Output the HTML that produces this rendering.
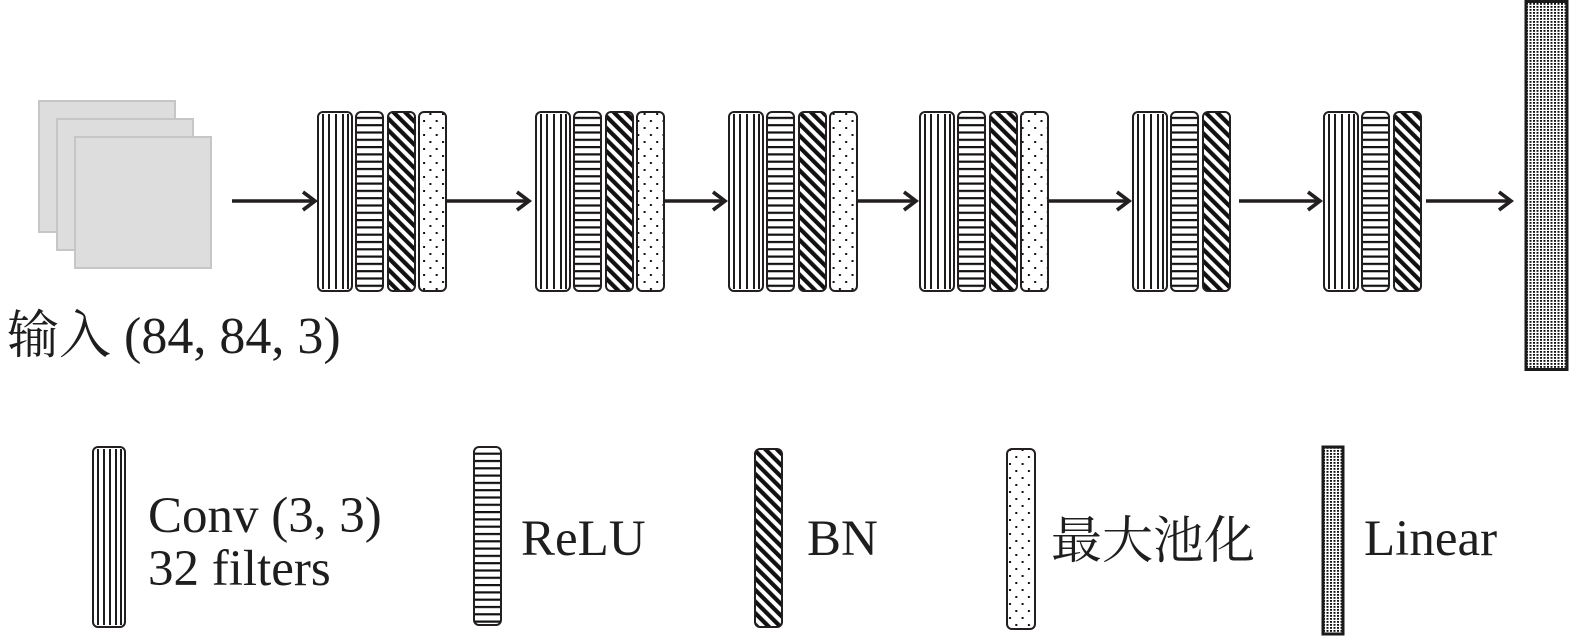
<!DOCTYPE html>
<html>
<head>
<meta charset="utf-8">
<style>
  html, body { margin: 0; padding: 0; background: #fff; }
  svg { display: block; }
  text { font-family: "Liberation Serif", "Noto Serif CJK SC", serif; fill: #1e1e1e; }
</style>
</head>
<body>
<svg width="1575" height="637" viewBox="0 0 1575 637" xmlns="http://www.w3.org/2000/svg">
  <defs>
    <pattern id="hl" patternUnits="userSpaceOnUse" width="10" height="7.3">
      <rect x="0" y="0" width="10" height="2.2" fill="#111"/>
    </pattern>
    <pattern id="dg" patternUnits="userSpaceOnUse" width="8.2" height="10" patternTransform="rotate(-45)">
      <rect x="0" y="0" width="4.2" height="10" fill="#111"/>
    </pattern>
    <pattern id="dt" patternUnits="userSpaceOnUse" width="12.6" height="14">
      <rect x="1" y="1" width="2" height="2" fill="#111"/>
      <rect x="7.3" y="8" width="2" height="2" fill="#111"/>
    </pattern>
    <pattern id="ln" patternUnits="userSpaceOnUse" width="3.5" height="3">
      <rect x="0" y="0" width="2" height="1.8" fill="#111"/>
    </pattern>
  </defs>

  <!-- input squares -->
  <rect x="39" y="101" width="136" height="131" fill="#dddddd" stroke="#c6c6c6" stroke-width="2"/>
  <rect x="57" y="119" width="136" height="131" fill="#dddddd" stroke="#c6c6c6" stroke-width="2"/>
  <rect x="75" y="137" width="136" height="131" fill="#dddddd" stroke="#c6c6c6" stroke-width="2"/>

  <text x="7" y="353" font-size="52">输入 (84, 84, 3)</text>

  <!-- arrows -->
  <g stroke="#231f20" stroke-width="3.6" fill="none" stroke-linecap="butt" stroke-linejoin="miter">
    <line x1="232" y1="201" x2="314" y2="201"/><polyline points="303,192 315,201 303,210"/>
    <line x1="447" y1="201" x2="528" y2="201"/><polyline points="517,192 529,201 517,210"/>
    <line x1="663" y1="201" x2="724" y2="201"/><polyline points="713,192 725,201 713,210"/>
    <line x1="856" y1="201" x2="915" y2="201"/><polyline points="904,192 916,201 904,210"/>
    <line x1="1048" y1="201" x2="1128" y2="201"/><polyline points="1117,192 1129,201 1117,210"/>
    <line x1="1239" y1="201" x2="1319" y2="201"/><polyline points="1308,192 1320,201 1308,210"/>
    <line x1="1426" y1="201" x2="1510" y2="201"/><polyline points="1499,192 1511,201 1499,210"/>
  </g>

  <!-- blocks -->
  <g stroke="#231f20" stroke-width="2">
    <rect x="318" y="112" width="34" height="179" rx="5" fill="#fff"/>
    <rect x="356" y="112" width="27" height="179" rx="5" fill="url(#hl)"/>
    <rect x="388" y="112" width="27" height="179" rx="5" fill="url(#dg)"/>
    <rect x="419" y="112" width="27" height="179" rx="5" fill="url(#dt)"/>

    <rect x="536" y="112" width="34" height="179" rx="5" fill="#fff"/>
    <rect x="574" y="112" width="27" height="179" rx="5" fill="url(#hl)"/>
    <rect x="606" y="112" width="27" height="179" rx="5" fill="url(#dg)"/>
    <rect x="637" y="112" width="27" height="179" rx="5" fill="url(#dt)"/>

    <rect x="729" y="112" width="34" height="179" rx="5" fill="#fff"/>
    <rect x="767" y="112" width="27" height="179" rx="5" fill="url(#hl)"/>
    <rect x="799" y="112" width="27" height="179" rx="5" fill="url(#dg)"/>
    <rect x="830" y="112" width="27" height="179" rx="5" fill="url(#dt)"/>

    <rect x="920" y="112" width="34" height="179" rx="5" fill="#fff"/>
    <rect x="958" y="112" width="27" height="179" rx="5" fill="url(#hl)"/>
    <rect x="990" y="112" width="27" height="179" rx="5" fill="url(#dg)"/>
    <rect x="1021" y="112" width="27" height="179" rx="5" fill="url(#dt)"/>

    <rect x="1133" y="112" width="34" height="179" rx="5" fill="#fff"/>
    <rect x="1171" y="112" width="27" height="179" rx="5" fill="url(#hl)"/>
    <rect x="1203" y="112" width="27" height="179" rx="5" fill="url(#dg)"/>

    <rect x="1324" y="112" width="34" height="179" rx="5" fill="#fff"/>
    <rect x="1362" y="112" width="27" height="179" rx="5" fill="url(#hl)"/>
    <rect x="1394" y="112" width="27" height="179" rx="5" fill="url(#dg)"/>
  </g>

  <!-- conv vertical lines -->
  <g stroke="#111" stroke-width="1.9">
    <path d="M323,114V289M329,114V289M336,114V289M343,114V289M348,114V289"/>
    <path d="M541,114V289M547,114V289M554,114V289M561,114V289M566,114V289"/>
    <path d="M734,114V289M740,114V289M747,114V289M754,114V289M759,114V289"/>
    <path d="M925,114V289M931,114V289M938,114V289M945,114V289M950,114V289"/>
    <path d="M1138,114V289M1144,114V289M1151,114V289M1158,114V289M1163,114V289"/>
    <path d="M1329,114V289M1335,114V289M1342,114V289M1349,114V289M1354,114V289"/>
  </g>

  <!-- linear bar -->
  <rect x="1526" y="1.5" width="41" height="368" fill="url(#ln)" stroke="#1a1a1a" stroke-width="3"/>

  <!-- legend -->
  <g stroke="#231f20" stroke-width="2">
    <rect x="93" y="447" width="32" height="180" rx="5" fill="#fff"/>
    <rect x="474" y="447" width="27" height="178" rx="5" fill="url(#hl)"/>
    <rect x="755" y="449" width="27" height="178" rx="5" fill="url(#dg)"/>
    <rect x="1007" y="449" width="28" height="180" rx="5" fill="url(#dt)"/>
  </g>
  <g stroke="#111" stroke-width="1.9">
    <path d="M98,449V625M104,449V625M110,449V625M116,449V625M121,449V625"/>
  </g>
  <rect x="1323" y="447" width="20" height="187" fill="url(#ln)" stroke="#1a1a1a" stroke-width="3"/>

  <text x="148" y="532" font-size="51">Conv (3, 3)</text>
  <text x="148" y="585" font-size="51">32 filters</text>
  <text x="521" y="555" font-size="51">ReLU</text>
  <text x="807" y="555" font-size="51">BN</text>
  <text x="1051" y="558" font-size="51">最大池化</text>
  <text x="1364" y="555" font-size="51">Linear</text>
</svg>
</body>
</html>
